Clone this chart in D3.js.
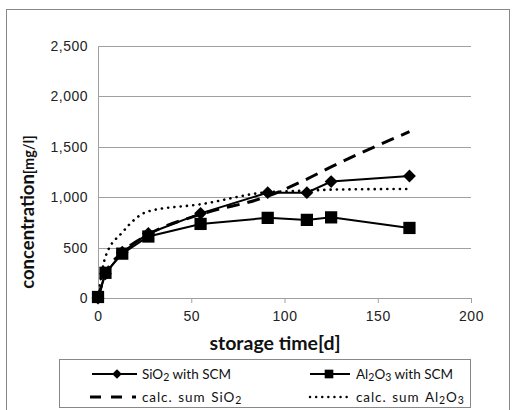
<!DOCTYPE html>
<html>
<head>
<meta charset="utf-8">
<script src="https://cdn.jsdelivr.net/npm/d3@7"></script>
<style>
  body { margin: 0; background: #fff; }
  svg { font-family: Lato, "Open Sans", sans-serif; }
</style>
</head>
<body>
<div class="chart"></div>
<script>
// storage time in days
var days = [0, 4, 13, 27, 55, 91, 112, 125, 167];

// measured values [mg/l]
var sio2Measured = [0, 240, 455, 640, 840, 1045, 1045, 1155, 1210];
var al2o3Measured = [10, 250, 440, 610, 735, 795, 775, 800, 695];

// calculated sums [mg/l]
var sio2Calc = [0, 240, 450, 630, 830, 1010, 1180, 1300, 1650];
var al2o3Calc = [0, 410, 650, 860, 930, 1050, 1065, 1075, 1082];

var xTicks = [0, 50, 100, 150, 200];
var yTicks = [0, 500, 1000, 1500, 2000, 2500];

var svgWidth = 513;
var svgHeight = 410;
var margin = {top: 46, right: 42, bottom: 112, left: 98};
var width = svgWidth - margin.left - margin.right;
var height = svgHeight - margin.top - margin.bottom;

var svg = d3.select(".chart")
    .append("svg")
    .attr("width", svgWidth)
    .attr("height", svgHeight);

// outer frame
svg.append("rect")
    .attr("x", 6.5)
    .attr("y", 9.5)
    .attr("width", 503)
    .attr("height", 410)
    .attr("fill", "none")
    .attr("stroke", "#888")
    .attr("stroke-width", 1);

var chart = svg.append("g")
    .attr("transform", "translate(" + margin.left + "," + margin.top + ")");

var x = d3.scaleLinear().domain([0, 200]).range([0, width]);
var y = d3.scaleLinear().domain([0, 2500]).range([height, 0]);

// horizontal gridlines
chart.append("g")
    .selectAll("line")
    .data(yTicks.slice(1))
    .enter().append("line")
    .attr("x1", 0)
    .attr("x2", width)
    .attr("y1", function(d) { return Math.round(y(d)) + 0.5; })
    .attr("y2", function(d) { return Math.round(y(d)) + 0.5; })
    .attr("stroke", "#a0a0a0")
    .attr("stroke-width", 1);

// y axis
var leftAxis = d3.axisLeft(y).tickValues(yTicks).tickSize(0).tickPadding(10)
    .tickFormat(d3.format(","));
var yAxis = chart.append("g").call(leftAxis);
yAxis.select(".domain").attr("stroke", "#a0a0a0");
yAxis.selectAll("text").attr("font-size", 14).attr("letter-spacing", 0.5).attr("fill", "#222");

// x axis
var bottomAxis = d3.axisBottom(x).tickValues(xTicks).tickSize(5).tickPadding(8);
var xAxis = chart.append("g")
    .attr("transform", "translate(0," + height + ")")
    .call(bottomAxis);
xAxis.select(".domain").attr("stroke", "#a0a0a0");
xAxis.selectAll("line").attr("stroke", "#a0a0a0");
xAxis.selectAll("text").attr("font-size", 14).attr("letter-spacing", 0.5).attr("fill", "#222");

// axis titles
svg.append("text")
    .attr("x", 275)
    .attr("y", 350)
    .attr("text-anchor", "middle")
    .attr("font-size", 19.5)
    .attr("font-weight", "bold")
    .attr("fill", "#111")
    .text("storage time[d]");

var yTitle = svg.append("text")
    .attr("transform", "translate(34,212) rotate(-90)")
    .attr("text-anchor", "middle")
    .attr("font-weight", "bold")
    .attr("fill", "#111");
yTitle.append("tspan").attr("font-size", 18.5).text("concentration");
yTitle.append("tspan").attr("font-size", 14.5).text("[mg/l]");

// line generators
var straight = d3.line()
    .x(function(d) { return x(d[0]); })
    .y(function(d) { return y(d[1]); });
var smooth = d3.line()
    .curve(d3.curveMonotoneX)
    .x(function(d) { return x(d[0]); })
    .y(function(d) { return y(d[1]); });

function pairs(vals) {
    return days.map(function(d, i) { return [d, vals[i]]; });
}

// calculated sums
chart.append("path")
    .attr("d", smooth(pairs(sio2Calc)))
    .attr("fill", "none")
    .attr("stroke", "#000")
    .attr("stroke-width", 3)
    .attr("stroke-dasharray", "13,8");

chart.append("path")
    .attr("d", smooth(pairs(al2o3Calc)))
    .attr("fill", "none")
    .attr("stroke", "#000")
    .attr("stroke-width", 2.6)
    .attr("stroke-linecap", "round")
    .attr("stroke-dasharray", "0.1,6.2");

// measured series
chart.append("path")
    .attr("d", straight(pairs(al2o3Measured)))
    .attr("fill", "none")
    .attr("stroke", "#000")
    .attr("stroke-width", 2);

chart.append("path")
    .attr("d", straight(pairs(sio2Measured)))
    .attr("fill", "none")
    .attr("stroke", "#000")
    .attr("stroke-width", 2);

var diamond = d3.symbol().type(d3.symbolDiamond2).size(105);
var square = d3.symbol().type(d3.symbolSquare).size(150);

chart.append("g")
    .selectAll("path")
    .data(pairs(al2o3Measured))
    .enter().append("path")
    .attr("d", square)
    .attr("transform", function(d) { return "translate(" + x(d[0]) + "," + y(d[1]) + ")"; })
    .attr("fill", "#000");

chart.append("g")
    .selectAll("path")
    .data(pairs(sio2Measured))
    .enter().append("path")
    .attr("d", diamond)
    .attr("transform", function(d) { return "translate(" + x(d[0]) + "," + y(d[1]) + ")"; })
    .attr("fill", "#000");

// legend
var legend = svg.append("g");
legend.append("rect")
    .attr("x", 59.5)
    .attr("y", 359.5)
    .attr("width", 411)
    .attr("height", 48)
    .attr("fill", "#fff")
    .attr("stroke", "#888");

var legendItems = [
    {col: 0, row: 0, kind: "diamond", label: ["SiO", "2", " with SCM"]},
    {col: 1, row: 0, kind: "square", label: ["Al", "2", "O", "3", " with SCM"]},
    {col: 0, row: 1, kind: "dash", label: ["calc. sum SiO", "2"]},
    {col: 1, row: 1, kind: "dot", label: ["calc. sum Al", "2", "O", "3"]}
];

legendItems.forEach(function(item) {
    var lx = item.col === 0 ? 92 : 310;
    var ly = item.row === 0 ? 374 : 397;
    var line = legend.append("line")
        .attr("x1", lx)
        .attr("x2", lx + 45)
        .attr("y1", ly)
        .attr("y2", ly)
        .attr("stroke", "#000");
    if (item.kind === "diamond" || item.kind === "square") {
        line.attr("stroke-width", 2).attr("x2", lx + (item.kind === "square" ? 40 : 45));
        legend.append("path")
            .attr("d", item.kind === "diamond" ? d3.symbol().type(d3.symbolDiamond2).size(60)
                                               : d3.symbol().type(d3.symbolSquare).size(75))
            .attr("transform", "translate(" + (lx + (item.kind === "square" ? 19 : 25)) + "," + ly + ")")
            .attr("fill", "#000");
    } else if (item.kind === "dash") {
        line.attr("stroke-width", 3).attr("stroke-dasharray", "11,10").attr("x1", lx - 2).attr("x2", lx + 44);
    } else {
        line.attr("stroke-width", 2.4).attr("stroke-linecap", "round")
            .attr("stroke-dasharray", "0.1,6").attr("x2", lx + 38);
    }
    var calc = item.kind === "dash" || item.kind === "dot";
    var t = legend.append("text")
        .attr("x", item.col === 0 ? 142 : 356)
        .attr("y", ly + 5)
        .attr("font-size", 13.5)
        .attr("letter-spacing", calc ? 0.9 : 0)
        .attr("word-spacing", calc ? 1.5 : 0)
        .attr("fill", "#111");
    var prevSub = false;
    item.label.forEach(function(part) {
        var sub = /^[0-9]$/.test(part);
        t.append("tspan")
            .attr("font-size", sub ? 10.5 : 13.5)
            .attr("dy", sub ? 2 : (prevSub ? -2 : 0))
            .text(part);
        prevSub = sub;
    });
});
</script>
</body>
</html>
